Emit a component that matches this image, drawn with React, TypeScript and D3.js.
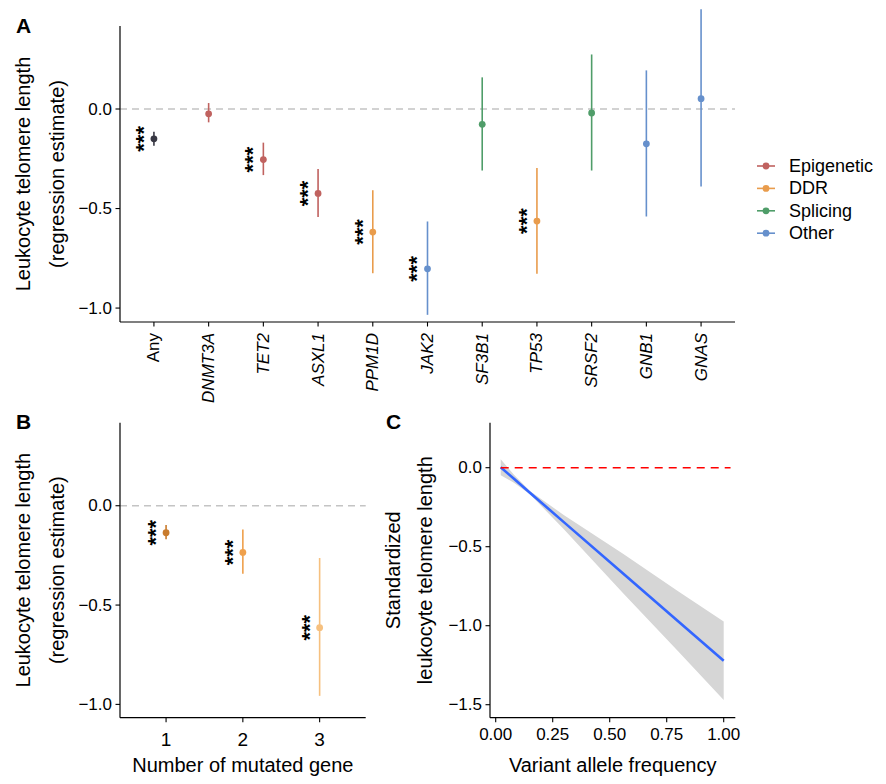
import React from "react";
import * as d3 from "d3";

// ---- Panel A: per-gene regression estimates ----
const GENES = ["Any", "DNMT3A", "TET2", "ASXL1", "PPM1D", "JAK2", "SF3B1", "TP53", "SRSF2", "GNB1", "GNAS"];
const GENE_GROUP = ["Any", "Epigenetic", "Epigenetic", "Epigenetic", "DDR", "Other", "Splicing", "DDR", "Splicing", "Other", "Other"];
const GENE_EST = [-0.15, -0.024, -0.254, -0.424, -0.618, -0.803, -0.077, -0.563, -0.02, -0.175, 0.052];
const GENE_LO = [-0.184, -0.067, -0.332, -0.543, -0.825, -1.034, -0.309, -0.827, -0.309, -0.54, -0.389];
const GENE_HI = [-0.114, 0.03, -0.169, -0.302, -0.408, -0.565, 0.159, -0.296, 0.274, 0.194, 0.501];
const GENE_SIG = [true, false, true, true, true, true, false, true, false, false, false];

const GROUPS = ["Epigenetic", "DDR", "Splicing", "Other"];
const GROUP_COLORS = ["#c0625f", "#e99c4c", "#4f9d69", "#6690cc"];
const ANY_COLOR = "#383844";

const Y_TICKS_AB = [0, -0.5, -1.0];

// ---- Panel B: by number of mutated genes ----
const MUT_N = ["1", "2", "3"];
const MUT_EST = [-0.136, -0.235, -0.614];
const MUT_LO = [-0.169, -0.342, -0.957];
const MUT_HI = [-0.097, -0.119, -0.263];
const MUT_COLORS = ["#c97b2c", "#efa04c", "#f6c07f"];

// ---- Panel C: fitted line with confidence band ----
const VAF = [0.022, 0.08, 0.15, 0.3, 0.56, 0.8, 1.0];
const VAF_FIT = [0.0025, -0.07, -0.158, -0.346, -0.671, -0.972, -1.222];
const VAF_LO = [-0.048, -0.095, -0.168, -0.391, -0.796, -1.162, -1.47];
const VAF_HI = [0.053, -0.045, -0.148, -0.301, -0.546, -0.782, -0.974];
const X_TICKS_C = [0, 0.25, 0.5, 0.75, 1.0];
const Y_TICKS_C = [0, -0.5, -1.0, -1.5];

const FONT = "'Liberation Sans', Arial, Helvetica, sans-serif";
const fmt1 = (v: number) => d3.format(".1f")(v).replace("-", "\u2212");
const fmt2 = (v: number) => d3.format(".2f")(v).replace("-", "\u2212");

function YAxis({ x, y, ticks, fmt, top, bottom }: any) {
  return (
    <g>
      <line x1={x} x2={x} y1={top} y2={bottom} stroke="#000" strokeWidth={1.2} />
      {ticks.map((t: number) => (
        <g key={t}>
          <line x1={x - 4.5} x2={x} y1={y(t)} y2={y(t)} stroke="#000" strokeWidth={1.1} />
          <text x={x - 8} y={y(t)} textAnchor="end" dominantBaseline="central" fontSize={17} fill="#000">
            {fmt(t)}
          </text>
        </g>
      ))}
    </g>
  );
}

function Stars({ x, y }: any) {
  return (
    <text
      x={x}
      y={y}
      transform={`rotate(-90 ${x} ${y})`}
      textAnchor="middle"
      dominantBaseline="central"
      fontSize={22}
      fontWeight="bold"
      fill="#000"
    >
      ***
    </text>
  );
}

function PanelA() {
  const left = 120, right = 735, top = 26, bottom = 322;
  const x = d3.scalePoint<string>().domain(GENES).range([left, right]).padding(0.62);
  const y = d3.scaleLinear().domain([-1.07, 0.417]).range([bottom, top]);
  const colorOf = (i: number) =>
    GENE_GROUP[i] === "Any" ? ANY_COLOR : GROUP_COLORS[GROUPS.indexOf(GENE_GROUP[i])];
  return (
    <g>
      <text x={16} y={33} fontSize={21} fontWeight="bold">A</text>
      <g transform={`translate(23 ${(top + bottom) / 2}) rotate(-90)`}>
        <text textAnchor="middle" dominantBaseline="central" fontSize={20}>Leukocyte telomere length</text>
      </g>
      <g transform={`translate(57 ${(top + bottom) / 2}) rotate(-90)`}>
        <text textAnchor="middle" dominantBaseline="central" fontSize={20}>(regression estimate)</text>
      </g>
      <line x1={left} x2={right} y1={y(0)} y2={y(0)} stroke="#c4c4c4" strokeWidth={1.3} strokeDasharray="7 5" />
      <YAxis x={left} y={y} ticks={Y_TICKS_AB} fmt={fmt1} top={top} bottom={bottom} />
      <line x1={left} x2={right} y1={bottom} y2={bottom} stroke="#000" strokeWidth={1.2} />
      {GENES.map((g, i) => {
        const cx = x(g)!;
        return (
          <g key={g}>
            <line x1={cx} x2={cx} y1={bottom} y2={bottom + 4.5} stroke="#000" strokeWidth={1.1} />
            <text
              transform={`translate(${cx} ${bottom + 11}) rotate(-90)`}
              textAnchor="end"
              dominantBaseline="central"
              fontSize={17}
              fontStyle={g === "Any" ? "normal" : "italic"}
            >
              {g}
            </text>
            <line x1={cx} x2={cx} y1={y(GENE_LO[i])} y2={y(GENE_HI[i])} stroke={colorOf(i)} strokeWidth={1.6} />
            <circle cx={cx} cy={y(GENE_EST[i])} r={3.4} fill={colorOf(i)} />
            {GENE_SIG[i] && <Stars x={cx - 10.5} y={y(GENE_EST[i])} />}
          </g>
        );
      })}
      {/* legend */}
      {GROUPS.map((gr, i) => {
        const ly = 166 + i * 22.4;
        return (
          <g key={gr}>
            <line x1={757} x2={775} y1={ly} y2={ly} stroke={GROUP_COLORS[i]} strokeWidth={1.6} />
            <circle cx={766} cy={ly} r={3.4} fill={GROUP_COLORS[i]} />
            <text x={789} y={ly} dominantBaseline="central" fontSize={18}>{gr}</text>
          </g>
        );
      })}
    </g>
  );
}

function PanelB() {
  const left = 120, right = 365.7, top = 422.7, bottom = 717.7;
  const x = d3.scalePoint<string>().domain(MUT_N).range([left, right]).padding(0.6);
  const y = d3.scaleLinear().domain([-1.067, 0.418]).range([bottom, top]);
  return (
    <g>
      <text x={16} y={429} fontSize={21} fontWeight="bold">B</text>
      <g transform={`translate(23 ${(top + bottom) / 2}) rotate(-90)`}>
        <text textAnchor="middle" dominantBaseline="central" fontSize={20}>Leukocyte telomere length</text>
      </g>
      <g transform={`translate(57 ${(top + bottom) / 2}) rotate(-90)`}>
        <text textAnchor="middle" dominantBaseline="central" fontSize={20}>(regression estimate)</text>
      </g>
      <line x1={left} x2={right} y1={y(0)} y2={y(0)} stroke="#c4c4c4" strokeWidth={1.3} strokeDasharray="7 5" />
      <YAxis x={left} y={y} ticks={Y_TICKS_AB} fmt={fmt1} top={top} bottom={bottom} />
      <line x1={left} x2={right} y1={bottom} y2={bottom} stroke="#000" strokeWidth={1.2} />
      {MUT_N.map((n, i) => {
        const cx = x(n)!;
        return (
          <g key={n}>
            <line x1={cx} x2={cx} y1={bottom} y2={bottom + 4.5} stroke="#000" strokeWidth={1.1} />
            <text x={cx} y={739} textAnchor="middle" dominantBaseline="central" fontSize={19}>{n}</text>
            <line x1={cx} x2={cx} y1={y(MUT_LO[i])} y2={y(MUT_HI[i])} stroke={MUT_COLORS[i]} strokeWidth={1.6} />
            <circle cx={cx} cy={y(MUT_EST[i])} r={3.4} fill={MUT_COLORS[i]} />
            <Stars x={cx - 10.5} y={y(MUT_EST[i])} />
          </g>
        );
      })}
      <text x={(left + right) / 2} y={765} textAnchor="middle" dominantBaseline="central" fontSize={20}>
        Number of mutated gene
      </text>
    </g>
  );
}

function PanelC() {
  const left = 490, right = 735.3, top = 422.7, bottom = 717.7;
  const x = d3.scaleLinear().domain([0, 1]).range([495.7, 723.7]);
  const y = d3.scaleLinear().domain([0, -1]).range([467.7, 625.7]);
  const rows = VAF.map((v, i) => ({ v, fit: VAF_FIT[i], lo: VAF_LO[i], hi: VAF_HI[i] }));
  const band = d3
    .area<any>()
    .x((d) => x(d.v))
    .y0((d) => y(d.lo))
    .y1((d) => y(d.hi));
  const fitLine = d3
    .line<any>()
    .x((d) => x(d.v))
    .y((d) => y(d.fit));
  return (
    <g>
      <text x={386} y={429} fontSize={21} fontWeight="bold">C</text>
      <g transform={`translate(393 ${(top + bottom) / 2}) rotate(-90)`}>
        <text textAnchor="middle" dominantBaseline="central" fontSize={20}>Standardized</text>
      </g>
      <g transform={`translate(425 ${(top + bottom) / 2}) rotate(-90)`}>
        <text textAnchor="middle" dominantBaseline="central" fontSize={20}>leukocyte telomere length</text>
      </g>
      <path d={band(rows)!} fill="#d6d6d6" />
      <path d={fitLine(rows)!} fill="none" stroke="#3366ff" strokeWidth={2.6} />
      <line x1={x(0.022)} x2={x(1.03)} y1={y(0)} y2={y(0)} stroke="#ff0000" strokeWidth={1.5} strokeDasharray="8 6" />
      <YAxis x={left} y={y} ticks={Y_TICKS_C} fmt={fmt1} top={top} bottom={bottom} />
      <line x1={left} x2={right} y1={bottom} y2={bottom} stroke="#000" strokeWidth={1.2} />
      {X_TICKS_C.map((t) => (
        <g key={t}>
          <line x1={x(t)} x2={x(t)} y1={bottom} y2={bottom + 4.5} stroke="#000" strokeWidth={1.1} />
          <text x={x(t)} y={734} textAnchor="middle" dominantBaseline="central" fontSize={17}>{fmt2(t)}</text>
        </g>
      ))}
      <text x={(left + right) / 2} y={765} textAnchor="middle" dominantBaseline="central" fontSize={20}>
        Variant allele frequency
      </text>
    </g>
  );
}

export default function App() {
  return (
    <svg
      width={886}
      height={784}
      viewBox="0 0 886 784"
      style={{ position: "absolute", left: 0, top: 0, background: "#fff" }}
      fontFamily={FONT}
    >
      <rect width={886} height={784} fill="#fff" />
      <PanelA />
      <PanelB />
      <PanelC />
    </svg>
  );
}
